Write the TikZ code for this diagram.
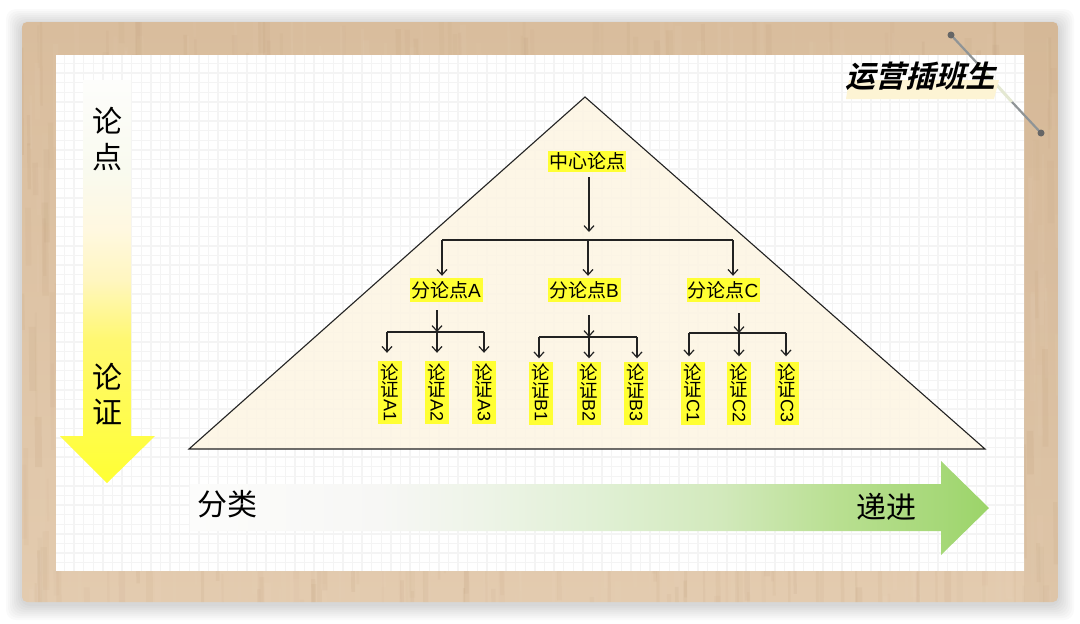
\documentclass[tikz,border=0pt]{standalone}
\usepackage{fontspec}
\setmainfont{Liberation Sans}
\newfontfamily\cjk{Noto Sans CJK SC}
\newfontfamily\cjklogo[FakeSlant=0.25]{Noto Sans CJK SC Bold}
\usetikzlibrary{arrows.meta,calc}
\definecolor{woodTop}{HTML}{D9BD9D}
\definecolor{woodBot}{HTML}{E3CBAF}
\definecolor{woodDark}{HTML}{A9825A}
\definecolor{woodLight}{HTML}{F0DEC8}
\definecolor{gridc}{HTML}{F4F4F4}
\definecolor{triFill}{HTML}{FDF5E3}
\definecolor{hl}{HTML}{FFFF33}
\definecolor{lineC}{HTML}{222222}
\definecolor{logoHl}{HTML}{FDF4D4}
\definecolor{pinDark}{HTML}{666666}
\definecolor{pinLine}{HTML}{8F9496}
\definecolor{pinPale}{HTML}{E4E8D2}
\definecolor{gA}{HTML}{FCFCFB}\definecolor{gB}{HTML}{F7F7F5}\definecolor{gC}{HTML}{EEF4E8}
\definecolor{gD}{HTML}{E0F0D4}\definecolor{gE}{HTML}{D2E9BC}\definecolor{gF}{HTML}{B8DF90}
\definecolor{gG}{HTML}{A6D878}\definecolor{gH}{HTML}{9BD468}
\definecolor{yA}{HTML}{FFFF33}\definecolor{yB}{HTML}{FFF870}\definecolor{yC}{HTML}{FFF6C0}
\definecolor{yD}{HTML}{FFF8E0}\definecolor{yE}{HTML}{F9FAEF}\definecolor{yF}{HTML}{FDFDFB}
\pgfdeclarehorizontalshading{greenRamp}{100bp}{color(0bp)=(gA);color(25bp)=(gA);color(36.9bp)=(gB);color(43.1bp)=(gC);color(50.7bp)=(gD);color(58.2bp)=(gE);color(65.7bp)=(gF);color(72bp)=(gG);color(75bp)=(gH);color(100bp)=(gH)}
\pgfdeclareverticalshading{yellowRamp}{100bp}{color(0bp)=(yA);color(25bp)=(yA);color(42.7bp)=(yB);color(50.2bp)=(yC);color(56.4bp)=(yD);color(63.8bp)=(yE);color(75bp)=(yF);color(100bp)=(yF)}
\tikzset{
  x=1pt,y=-1pt,
  hlbox/.style={fill=hl,text=black,inner sep=0pt},
  midbox/.style={hlbox,minimum width=73pt,minimum height=24pt,font=\fontsize{19}{21}\selectfont},
  topbox/.style={hlbox,minimum width=78pt,minimum height=21pt,font=\fontsize{19}{21}\selectfont\cjk},
  leafbox/.style={hlbox,minimum width=24pt,minimum height=63pt,font=\fontsize{18.5}{20}\selectfont},
  bigtext/.style={inner sep=0pt,text=black,font=\fontsize{30}{32}\selectfont\cjk},
  link/.style={draw=lineC,line width=1.2pt},
  arr/.style={link,-{Straight Barb[length=5.5pt,width=10pt,line width=1.2pt]},shorten >=2pt},
}
\newcommand{\leafline}[1]{\hbox to 24pt{\hss#1\hss}}
\newcommand{\leaftxt}[1]{\vbox{\offinterlineskip\leafline{\cjk 论}\kern1pt\leafline{\cjk 证}\kern1.5pt\leafline{\fontsize{18}{20}\selectfont\rotatebox{-90}{#1}}}}
\begin{document}
\begin{tikzpicture}
\useasboundingbox (0,0) rectangle (1080,624);
\fill[white] (0,0) rectangle (1080,624);
% shadow
\foreach \e in {16,14,12,10,8,6,4,2}{
  \fill[black,opacity=0.02,rounded corners=10pt] (22-\e,22-\e+3) rectangle (1058+\e,602+\e+2);
}
% wood frame
\begin{scope}
\clip[rounded corners=5pt] (22,22) rectangle (1058,602);
\shade[top color=woodTop,bottom color=woodBot] (22,22) rectangle (1058,602);
\fill[woodDark,opacity=0.08] (1024,22) rectangle (1058,602);
\pgfmathsetseed{11}
\foreach \i in {1,...,600}{
  \pgfmathsetmacro{\xx}{22+rnd*1036}
  \pgfmathsetmacro{\yy}{10+rnd*590}
  \pgfmathsetmacro{\ll}{25+rnd*90}
  \pgfmathsetmacro{\oo}{0.03+rnd*0.06}
  \pgfmathsetmacro{\ww}{2+rnd*5}
  \draw[woodDark,line width=\ww pt,opacity=\oo] (\xx,\yy) -- (\xx+0.6,\yy+\ll);
  \pgfmathsetmacro{\xb}{22+rnd*1036}
  \pgfmathsetmacro{\yb}{10+rnd*590}
  \draw[woodLight,line width=\ww pt,opacity=\oo] (\xb,\yb) -- (\xb+0.6,\yb+\ll);
}
\end{scope}
% paper
\fill[white] (56,55) rectangle (1024,571);
\begin{scope}
\clip (56,55) rectangle (1024,571);
\foreach \k in {0,...,100}{
  \draw[gridc,line width=1.4pt] (64.5+9.6*\k,55) -- (64.5+9.6*\k,571);
}
\foreach \k in {0,...,53}{
  \draw[gridc,line width=1.4pt] (56,63.5+9.6*\k) -- (1024,63.5+9.6*\k);
}
\end{scope}
% triangle
\coordinate (apex) at (585,97);
\coordinate (baseL) at (189,449);
\coordinate (baseR) at (985,449);
\fill[triFill,fill opacity=0.88] (apex) -- (baseL) -- (baseR) -- cycle;
\draw[draw=lineC,line width=1.1pt,line join=miter] (apex) -- (baseL) -- (baseR) -- cycle;
% big arrows
\shade[shading=yellowRamp] (83,80) -- (131,80) -- (131,436) -- (155,436) -- (107,483) -- (60,436) -- (83,436) -- cycle;
\shade[shading=greenRamp] (190,484) -- (941,484) -- (941,461) -- (989,508) -- (941,555) -- (941,531) -- (190,531) -- cycle;
\node[bigtext] (lun1) at (107,121) {论};
\node[bigtext] (dian1) at (107,157) {点};
\node[bigtext] (lun2) at (107,377) {论};
\node[bigtext] (zheng2) at (107,412) {证};
\node[bigtext] (fenlei) at (227,504) {分类};
\node[bigtext] (dijin) at (886,507) {递进};
% nodes
\node[topbox] (root) at (587,161.5) {中心论点};
\node[midbox] (pA) at (446,290) {{\cjk 分论点}A};
\node[midbox] (pB) at (584,290) {{\cjk 分论点}B};
\node[midbox] (pC) at (723,290) {{\cjk 分论点}C};
\node[leafbox] (a1) at (390,392.5) {\leaftxt{A1}};
\node[leafbox] (a2) at (437,392.5) {\leaftxt{A2}};
\node[leafbox] (a3) at (484,392.5) {\leaftxt{A3}};
\node[leafbox] (b1) at (541,393) {\leaftxt{B1}};
\node[leafbox] (b2) at (589,393) {\leaftxt{B2}};
\node[leafbox] (b3) at (636,393) {\leaftxt{B3}};
\node[leafbox] (c1) at (693,393) {\leaftxt{C1}};
\node[leafbox] (c2) at (739,393) {\leaftxt{C2}};
\node[leafbox] (c3) at (787,393) {\leaftxt{C3}};
% top level connectors
\coordinate (busRoot) at (589,240);
\coordinate (dropA) at (442,240);
\coordinate (dropB) at (588,240);
\coordinate (dropC) at (733,240);
\draw[arr,shorten <=5pt,shorten >=8pt] (root.south -| busRoot) -- (busRoot);
\draw[link] (dropA) -- (dropC);
\draw[arr] (dropA) -- (dropA |- pA.north);
\draw[arr] (dropB) -- (dropB |- pB.north);
\draw[arr] (dropC) -- (dropC |- pC.north);
% A
\coordinate (busA) at (437,332);
\coordinate (dA1) at (387,332);
\coordinate (dA3) at (484,332);
\draw[arr,shorten <=8pt,shorten >=0pt] (pA.south -| busA) -- (busA);
\draw[link] (dA1) -- (dA3);
\draw[arr,shorten >=8pt] (dA1) -- (dA1 |- a1.north);
\draw[arr,shorten >=8pt] (busA) -- (busA |- a2.north);
\draw[arr,shorten >=8pt] (dA3) -- (dA3 |- a3.north);
% B
\coordinate (busB) at (589,337);
\coordinate (dB1) at (539,337);
\coordinate (dB3) at (637,337);
\draw[arr,shorten <=13pt,shorten >=0pt] (pB.south -| busB) -- (busB);
\draw[link] (dB1) -- (dB3);
\draw[arr,shorten >=3pt] (dB1) -- (dB1 |- b1.north);
\draw[arr,shorten >=3pt] (busB) -- (busB |- b2.north);
\draw[arr,shorten >=3pt] (dB3) -- (dB3 |- b3.north);
% C
\coordinate (busC) at (739,333);
\coordinate (dC1) at (689,333);
\coordinate (dC3) at (786,333);
\draw[arr,shorten <=11pt,shorten >=0pt] (pC.south -| busC) -- (busC);
\draw[link] (dC1) -- (dC3);
\draw[arr,shorten >=5pt] (dC1) -- (dC1 |- c1.north);
\draw[arr,shorten >=5pt] (busC) -- (busC |- c2.north);
\draw[arr,shorten >=5pt] (dC3) -- (dC3 |- c3.north);
% pin line
\coordinate (pin1) at (951,35);
\coordinate (pinA) at (977,63);
\coordinate (pinB) at (1012,102);
\coordinate (pin2) at (1041,133);
\draw[pinPale,line width=3pt] (pinA) -- (pinB);
\draw[pinLine,line width=2.2pt] (pin1) -- (pinA);
\draw[pinLine,line width=2.2pt] (pinB) -- (pin2);
\fill[pinDark] (pin1) circle (3.5);
\fill[pinDark] (pin2) circle (3.5);
% logo
\fill[logoHl] (849,80) -- (999,80) -- (994,99) -- (846,99) -- cycle;
\node[inner sep=0pt,text=black,font=\fontsize{30}{32}\selectfont\cjklogo] (logo) at (920,76.5) {运营插班生};
\end{tikzpicture}
\end{document}
